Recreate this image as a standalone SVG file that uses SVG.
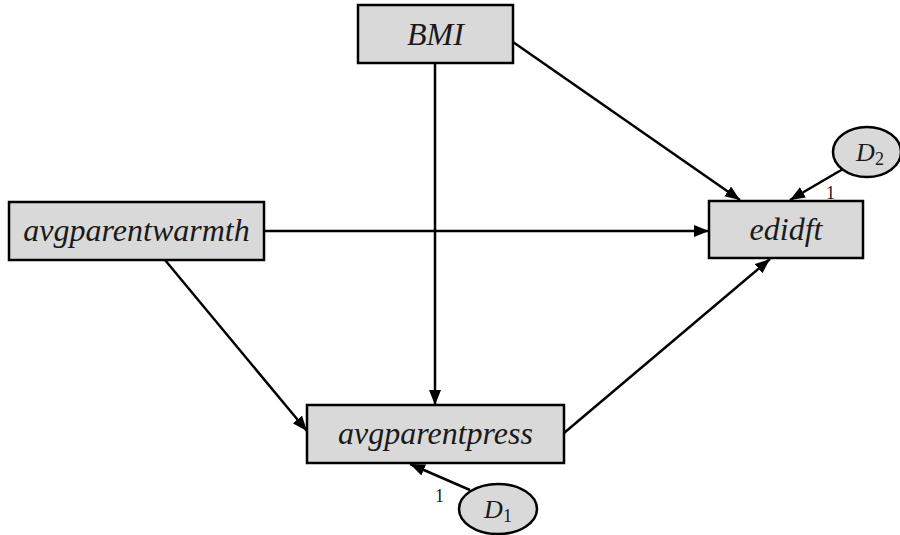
<svg xmlns="http://www.w3.org/2000/svg" width="900" height="535" viewBox="0 0 900 535">
<style>
.box{fill:#d9d9d9;stroke:#000;stroke-width:2.5}
text{font-family:'Liberation Serif','Times New Roman',serif;fill:#1a1a1a}
.lbl{font-style:italic;font-size:32px;text-anchor:middle}
.dl{font-style:italic;font-size:26px}
.sub{font-size:18px}
.one{font-size:18px}
.ln{stroke:#000;stroke-width:2.5;fill:none;marker-end:url(#ah)}
</style>
<defs>
<marker id="ah" viewBox="0 0 15 12" refX="15" refY="6" markerWidth="15" markerHeight="12" markerUnits="userSpaceOnUse" orient="auto">
<path d="M0,0 L15,6 L0,12 Z" fill="#000"/>
</marker>
</defs>
<g id="connectors">
<line class="ln" x1="513" y1="42" x2="740" y2="200"/>
<line class="ln" x1="435" y1="63" x2="435" y2="405"/>
<line class="ln" x1="264" y1="231" x2="709" y2="231"/>
<line class="ln" x1="165" y1="260" x2="307" y2="431"/>
<line class="ln" x1="564" y1="433" x2="770" y2="259"/>
<line class="ln" x1="843" y1="169" x2="790" y2="200"/>
<line class="ln" x1="470" y1="490" x2="410" y2="464"/>
</g>
<g id="BMI">
<rect class="box" x="358" y="5" width="155" height="58"/>
<text class="lbl" x="435.5" y="45">BMI</text>
</g>
<g id="edidft">
<rect class="box" x="709" y="201" width="154" height="57"/>
<text class="lbl" x="786" y="240">edidft</text>
</g>
<g id="avgparentwarmth">
<rect class="box" x="9" y="202" width="255" height="58"/>
<text class="lbl" x="136.5" y="241">avgparentwarmth</text>
</g>
<g id="avgparentpress">
<rect class="box" x="307" y="405" width="257" height="58"/>
<text class="lbl" x="435.5" y="444">avgparentpress</text>
</g>
<g id="D2">
<ellipse class="box" cx="867" cy="152" rx="34" ry="25"/>
<text class="dl" x="856" y="161">D</text><text class="sub" x="875" y="165">2</text>
</g>
<g id="D1">
<ellipse class="box" cx="498" cy="509" rx="39" ry="25"/>
<text class="dl" x="484" y="518">D</text><text class="sub" x="503" y="522">1</text>
</g>
<text class="one" x="826" y="199">1</text>
<text class="one" x="435" y="502">1</text>
</svg>
